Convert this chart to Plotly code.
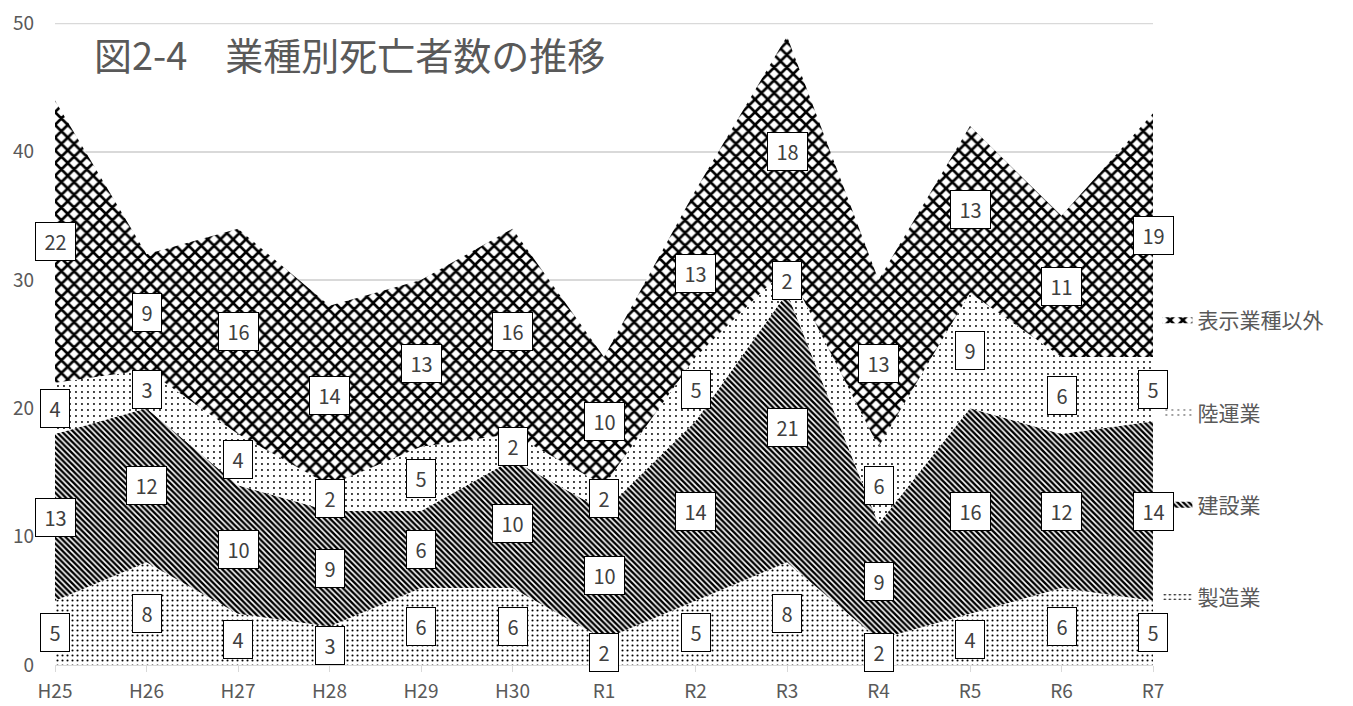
import plotly.graph_objects as go

categories = ["H25", "H26", "H27", "H28", "H29", "H30", "R1", "R2", "R3", "R4", "R5", "R6", "R7"]
seizou = [5, 8, 4, 3, 6, 6, 2, 5, 8, 2, 4, 6, 5]
kensetsu = [13, 12, 10, 9, 6, 10, 10, 14, 21, 9, 16, 12, 14]
rikuun = [4, 3, 4, 2, 5, 2, 2, 5, 2, 6, 9, 6, 5]
igai = [22, 9, 16, 14, 13, 16, 10, 13, 18, 13, 13, 11, 19]
y_ticks = [0, 10, 20, 30, 40, 50]

series = [
    ("製造業", seizou, dict(shape=".", size=5, solidity=0.14)),
    ("建設業", kensetsu, dict(shape="\\", size=4, solidity=0.6)),
    ("陸運業", rikuun, dict(shape=".", size=6, solidity=0.08)),
    ("表示業種以外", igai, dict(shape="x", size=9, solidity=0.5)),
]

FONT = "Noto Sans CJK JP"
GRAY = "#595959"
GRID = "#d9d9d9"
NB = "\u00a0"

fig = go.Figure()
n = len(series)
for i, (name, vals, pat) in enumerate(series):
    fig.add_trace(go.Scatter(
        x=categories, y=vals, name=name, stackgroup="one", mode="none",
        line=dict(width=0), legendgroup=name, legendrank=n - i,
        fillpattern=dict(fgcolor="black", bgcolor="white", fillmode="replace", **pat),
        hoverinfo="skip",
    ))

annotations = []
base = [0] * len(categories)
for name, vals, pat in series:
    for j, c in enumerate(categories):
        mid = base[j] + vals[j] / 2
        annotations.append(dict(
            x=c, y=mid, xref="x", yref="y", text=NB + str(vals[j]) + NB, showarrow=False,
            font=dict(family=FONT, size=20, color="#404040"),
            bgcolor="white", bordercolor="black", borderwidth=1, borderpad=4,
        ))
        base[j] += vals[j]

annotations.append(dict(
    x=0.034, y=0.952, xref="paper", yref="paper", xanchor="left", yanchor="middle",
    text="図2-4　業種別死亡者数の推移", showarrow=False,
    font=dict(family=FONT, size=38, color=GRAY),
))

# top gridline (plotly omits the gridline that sits on the plot edge)
fig.add_shape(type="line", xref="paper", x0=0, x1=1, yref="y", y0=y_ticks[-1], y1=y_ticks[-1],
              line=dict(color=GRID, width=1.5), layer="below")

fig.update_layout(
    width=1345, height=698,
    margin=dict(l=47, r=200, t=15, b=41),
    paper_bgcolor="white", plot_bgcolor="white",
    font=dict(family=FONT, color=GRAY, size=16),
    annotations=annotations,
    legend=dict(x=1.004, y=0.5685, xanchor="left", yanchor="top",
                traceorder="grouped", tracegroupgap=62,
                font=dict(family=FONT, size=21, color=GRAY)),
    xaxis=dict(type="category", range=[0, len(categories) - 1], showgrid=False,
               automargin=False,
               showline=True, linecolor=GRID, linewidth=1,
               ticks="outside", tickcolor=GRID, ticklen=6, ticklabelstandoff=3,
               tickfont=dict(size=19, color=GRAY)),
    yaxis=dict(range=[0, 50.03], tickmode="array", tickvals=y_ticks,
               showgrid=True, gridcolor=GRID, gridwidth=1.5,
               automargin=False,
               zeroline=False, showline=False, ticks="", ticklabelstandoff=20,
               tickfont=dict(size=19, color=GRAY)),
)

fig.write_html("out.html")
